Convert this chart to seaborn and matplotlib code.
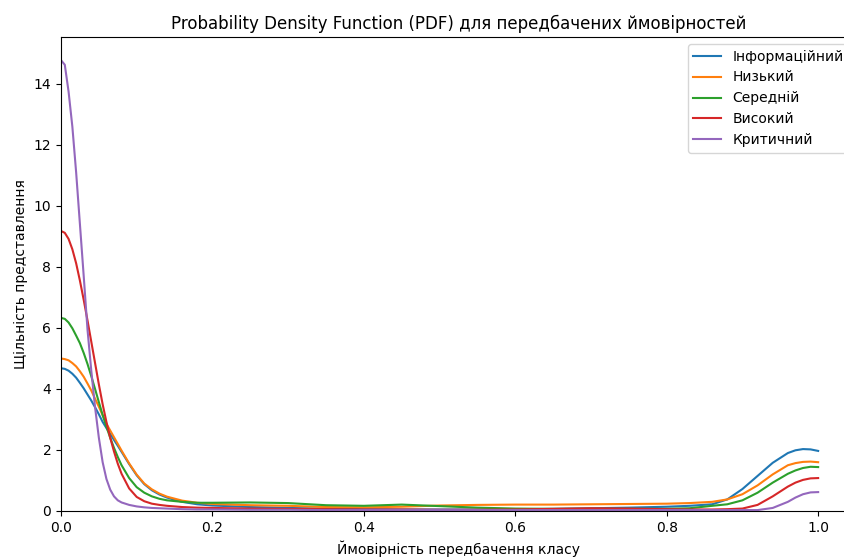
import matplotlib
matplotlib.use("Agg")
import matplotlib.pyplot as plt
import seaborn as sns
import pandas as pd

# x grid (predicted probability)
x_grid = [0.0, 0.005, 0.01, 0.015, 0.02, 0.025, 0.03, 0.035, 0.04, 0.045, 0.05, 0.055,
          0.06, 0.065, 0.07, 0.075, 0.08, 0.09, 0.10, 0.11, 0.12, 0.13, 0.14, 0.16,
          0.18, 0.20, 0.25, 0.30, 0.35, 0.40, 0.45, 0.50, 0.55, 0.60, 0.65, 0.70,
          0.75, 0.80, 0.83, 0.86, 0.88, 0.90, 0.92, 0.94, 0.96, 0.97, 0.98, 0.99, 1.00]

classes = ["Інформаційний", "Низький", "Середній", "Високий", "Критичний"]

dens_info = [4.68, 4.66, 4.60, 4.50, 4.37, 4.20, 4.02, 3.82, 3.62, 3.40, 3.17, 2.92,
             2.72, 2.53, 2.33, 2.14, 1.94, 1.54, 1.17, 0.88, 0.68, 0.54, 0.44, 0.30,
             0.22, 0.18, 0.13, 0.10, 0.08, 0.06, 0.05, 0.05, 0.05, 0.06, 0.07, 0.09,
             0.11, 0.14, 0.17, 0.22, 0.38, 0.72, 1.15, 1.58, 1.90, 1.99, 2.03, 2.02, 1.97]

dens_low = [5.00, 4.98, 4.94, 4.85, 4.74, 4.58, 4.40, 4.18, 3.95, 3.68, 3.42, 3.14,
            2.86, 2.64, 2.42, 2.20, 1.98, 1.56, 1.19, 0.90, 0.71, 0.57, 0.47, 0.34,
            0.27, 0.23, 0.19, 0.17, 0.13, 0.12, 0.14, 0.18, 0.20, 0.21, 0.21, 0.22,
            0.23, 0.24, 0.26, 0.30, 0.38, 0.55, 0.84, 1.20, 1.50, 1.57, 1.61, 1.62, 1.60]

dens_mid = [6.33, 6.30, 6.18, 5.99, 5.75, 5.50, 5.18, 4.82, 4.42, 4.00, 3.57, 3.15,
            2.76, 2.40, 2.07, 1.77, 1.50, 1.08, 0.78, 0.60, 0.48, 0.40, 0.35, 0.30,
            0.27, 0.27, 0.28, 0.26, 0.19, 0.17, 0.21, 0.16, 0.11, 0.08, 0.07, 0.07,
            0.07, 0.07, 0.09, 0.17, 0.22, 0.35, 0.60, 0.93, 1.22, 1.33, 1.41, 1.45, 1.44]

dens_high = [9.18, 9.12, 8.92, 8.58, 8.12, 7.55, 6.92, 6.25, 5.55, 4.85, 4.15, 3.50,
             2.92, 2.40, 1.95, 1.55, 1.22, 0.74, 0.46, 0.32, 0.24, 0.20, 0.17, 0.13,
             0.11, 0.10, 0.08, 0.07, 0.06, 0.05, 0.05, 0.04, 0.04, 0.05, 0.07, 0.09,
             0.08, 0.06, 0.05, 0.05, 0.06, 0.08, 0.20, 0.48, 0.80, 0.93, 1.02, 1.07, 1.08]

dens_crit = [14.78, 14.63, 13.75, 12.60, 11.10, 9.40, 7.70, 5.95, 4.60, 3.40, 2.40, 1.60,
             1.05, 0.70, 0.48, 0.35, 0.28, 0.20, 0.15, 0.12, 0.10, 0.09, 0.08, 0.06,
             0.05, 0.05, 0.04, 0.04, 0.03, 0.03, 0.03, 0.03, 0.03, 0.03, 0.03, 0.03,
             0.03, 0.03, 0.03, 0.03, 0.03, 0.03, 0.03, 0.10, 0.30, 0.44, 0.55, 0.61, 0.62]

series = [dens_info, dens_low, dens_mid, dens_high, dens_crit]

frames = []
for name, vals in zip(classes, series):
    frames.append(pd.DataFrame({"x": x_grid, "density": vals, "class": name}))
df = pd.concat(frames, ignore_index=True)

fig = plt.figure(figsize=(8.45, 5.58), dpi=100)
# the axes extends slightly past the right edge of the picture, as in the reference
ax = fig.add_axes([61 / 845, (558 - 511) / 558, (856 - 61) / 845, (511 - 37) / 558])

palette = sns.color_palette("tab10", 5)
sns.lineplot(data=df, x="x", y="density", hue="class", hue_order=classes,
             palette=palette, linewidth=1.5, ax=ax)

ax.set_xlim(0, 1.05)
ax.set_ylim(0, 15.54)
ax.set_title("Probability Density Function (PDF) для передбачених ймовірностей")
ax.set_xlabel("Ймовірність передбачення класу")
ax.set_ylabel("Щільність представлення")
handles, labels = ax.get_legend_handles_labels()
ax.legend(handles, labels, loc="upper right")

fig.savefig("out.png", dpi=100)
